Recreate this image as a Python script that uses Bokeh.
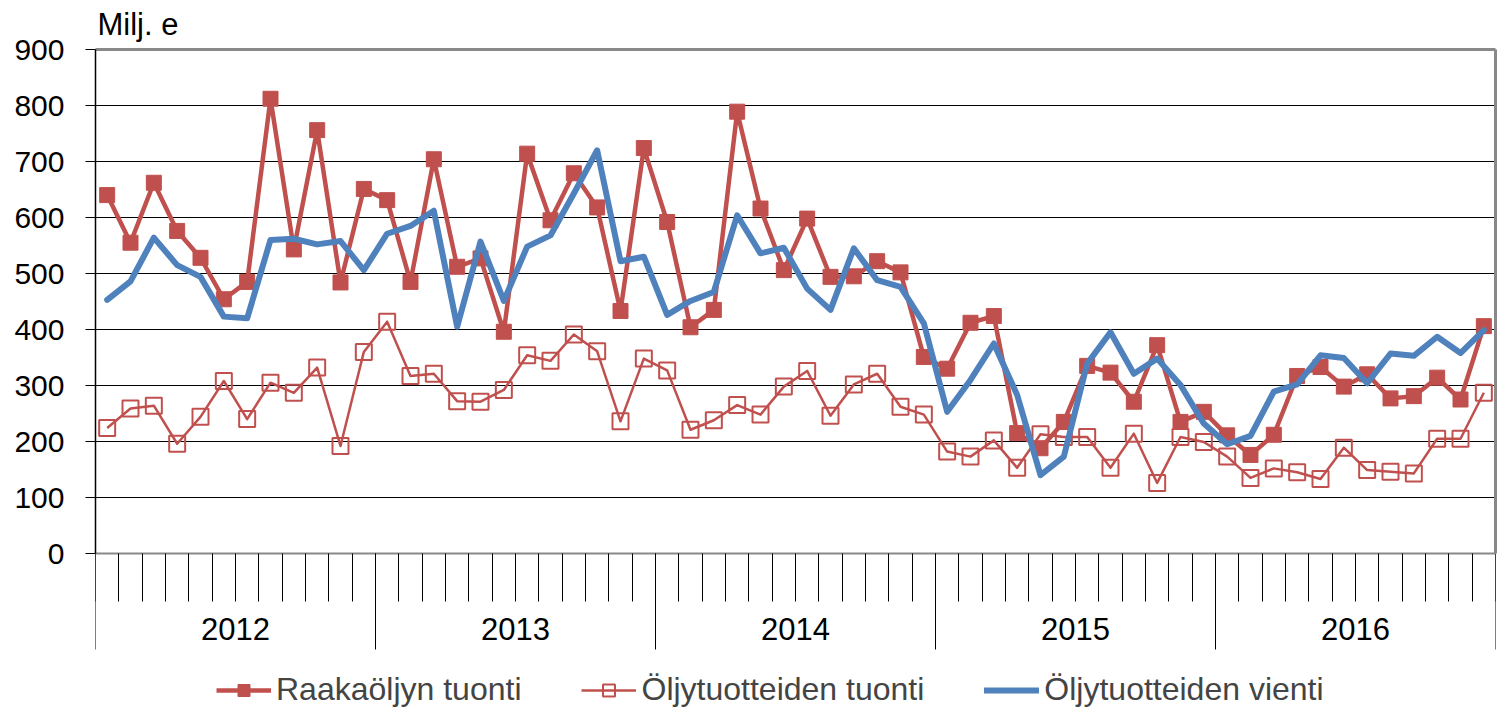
from bokeh.plotting import figure
from bokeh.models import Range1d, FixedTicker, Legend, LegendItem, LinearAxis
from bokeh.embed import file_html
from bokeh.resources import INLINE

# ---- data -------------------------------------------------------------
years = ["2012", "2013", "2014", "2015", "2016"]
months_per_year = 12

series_names = ["Raakaöljyn tuonti", "Öljytuotteiden tuonti", "Öljytuotteiden vienti"]

raaka = [640, 555, 662, 576, 528, 454, 485, 812, 543, 756, 484, 651,
         631, 485, 704, 512, 527, 396, 714, 595, 679, 618, 433, 724,
         592, 404, 435, 789, 616, 506, 598, 494, 495, 522, 502, 351,
         330, 412, 424, 215, 188, 235, 335, 323, 271, 372, 235, 253,
         211, 176, 212, 317, 333, 298, 320, 277, 281, 314, 275, 406]

tuonti = [224, 259, 264, 196, 244, 308, 240, 305, 287, 332, 192, 360,
          414, 317, 321, 272, 271, 292, 354, 344, 391, 361, 236, 348,
          327, 221, 238, 265, 248, 298, 326, 246, 302, 321, 262, 248,
          182, 173, 202, 153, 213, 208, 208, 153, 214, 126, 208, 199,
          173, 135, 152, 145, 133, 189, 149, 146, 143, 205, 205, 287]

vienti = [453, 486, 564, 515, 494, 423, 420, 560, 562, 552, 558, 506,
          571, 585, 612, 405, 557, 451, 548, 568, 643, 720, 522, 530,
          426, 451, 467, 604, 536, 546, 473, 435, 545, 488, 476, 411,
          253, 310, 375, 283, 140, 173, 339, 395, 321, 348, 301, 232,
          195, 210, 289, 302, 354, 349, 304, 357, 353, 387, 358, 399]

y_ticks = [0, 100, 200, 300, 400, 500, 600, 700, 800, 900]
y_unit_label = "Milj. e"

# ---- layout / style ---------------------------------------------------
FONT = "Liberation Sans"
RED = "#C0504D"
BLUE = "#4F81BD"
BORDER = "#898989"

PLOT_PX = 504        # pixel height of the 0..900 value area
BELOW_PX = 159       # room under the value area for ticks, years and legend
TOP_PX = 48
LEFT_PX = 95

n = len(raaka)
x = list(range(n))
y_min, y_max = y_ticks[0], y_ticks[-1]
y_low = y_min - (y_max - y_min) * BELOW_PX / PLOT_PX

p = figure(width=1499, height=TOP_PX + PLOT_PX + BELOW_PX,
           frame_width=1400, frame_height=PLOT_PX + BELOW_PX,
           output_backend="svg", toolbar_location=None,
           x_range=Range1d(-0.5, n - 0.5), y_range=Range1d(y_low, y_max),
           min_border_left=LEFT_PX, min_border_top=TOP_PX, min_border_right=4,
           min_border_bottom=0, x_axis_location=None, y_axis_location=None)
p.background_fill_color = "white"
p.border_fill_color = "white"
p.outline_line_color = None

# title used as unit label
p.title.text = y_unit_label
p.title.align = "left"
p.title.offset = 2
p.title.standoff = 12
p.title.vertical_align = "top"
p.title.text_line_height = 0.8
p.title.text_font = FONT
p.title.text_font_size = "31px"
p.title.text_font_style = "normal"
p.title.text_color = "black"

year_centres = [k * months_per_year + (months_per_year - 1) / 2 for k in range(len(years))]
year_bounds = [k * months_per_year - 0.5 for k in range(len(years) + 1)]
month_bounds = [k - 0.5 for k in range(n + 1)]

# x axis A at value 0: month boundary ticks (short) + year labels
ax_a = LinearAxis(fixed_location=y_min,
                  ticker=FixedTicker(ticks=year_centres, minor_ticks=month_bounds),
                  major_label_overrides={c: yr for c, yr in zip(year_centres, years)})
ax_a.major_tick_out = 48
ax_a.major_tick_in = 0
ax_a.major_tick_line_color = None
ax_a.minor_tick_out = 48
ax_a.minor_tick_in = 0
ax_a.minor_tick_line_color = "black"
ax_a.major_label_standoff = 16
ax_a.major_label_text_font = FONT
ax_a.major_label_text_font_size = "31px"
ax_a.major_label_text_color = "black"
ax_a.axis_line_color = BORDER
ax_a.axis_line_width = 2
p.add_layout(ax_a, "below")

# x axis B at value 0: long year boundary ticks
ax_b = LinearAxis(fixed_location=y_min,
                  ticker=FixedTicker(ticks=year_bounds, minor_ticks=[]),
                  major_label_overrides={b: "" for b in year_bounds})
ax_b.major_tick_in = 0
ax_b.major_tick_out = 96
ax_b.major_tick_line_color = "black"
ax_b.minor_tick_line_color = None
ax_b.axis_line_color = None
ax_b.major_label_text_font_size = "1px"
p.add_layout(ax_b, "below")

# top border
ax_top = LinearAxis(ticker=FixedTicker(ticks=[]), axis_line_color=BORDER,
                    axis_line_width=3, major_tick_line_color=None,
                    minor_tick_line_color=None, major_label_text_font_size="1px")
p.add_layout(ax_top, "above")

# right border
ax_right = LinearAxis(bounds=(y_min, y_max), ticker=FixedTicker(ticks=[]),
                      axis_line_color=BORDER, axis_line_width=3,
                      major_tick_line_color=None, minor_tick_line_color=None,
                      major_label_text_font_size="1px")
p.add_layout(ax_right, "right")

# y axis
ax_y = LinearAxis(bounds=(y_min, y_max), ticker=FixedTicker(ticks=y_ticks))
ax_y.major_tick_out = 10
ax_y.major_tick_in = 0
ax_y.minor_tick_line_color = None
ax_y.major_label_standoff = 21
ax_y.major_label_text_font = FONT
ax_y.major_label_text_font_size = "30px"
ax_y.major_label_text_color = "black"
ax_y.axis_line_color = "black"
ax_y.axis_line_width = 1.5
ax_y.major_tick_line_color = "black"
p.add_layout(ax_y, "left")

p.xgrid.visible = False
p.ygrid.ticker = FixedTicker(ticks=y_ticks[1:])
p.ygrid.grid_line_color = "black"
p.ygrid.grid_line_width = 1

# series
r1l = p.line(x, raaka, line_color=RED, line_width=4.5, line_join="round")
r1s = p.scatter(x, raaka, marker="square", size=15, fill_color=RED, line_color=RED)
r2l = p.line(x, tuonti, line_color=RED, line_width=2.5, line_join="round")
r2s = p.scatter(x, tuonti, marker="square", size=16, fill_color=None,
                line_color=RED, line_width=2)
r3 = p.line(x, vienti, line_color=BLUE, line_width=6, line_join="round",
            line_cap="round")

legend = Legend(items=[LegendItem(label=series_names[0], renderers=[r1l, r1s]),
                       LegendItem(label=series_names[1], renderers=[r2l, r2s]),
                       LegendItem(label=series_names[2], renderers=[r3])],
                orientation="horizontal", location=(121, 4), padding=0, margin=0,
                spacing=60, glyph_width=55, glyph_height=30, label_height=30,
                label_standoff=5, label_text_font=FONT, label_text_font_size="32px",
                border_line_color=None, background_fill_alpha=0)
p.add_layout(legend, "center")

open("out.html", "w").write(file_html(p, INLINE))
